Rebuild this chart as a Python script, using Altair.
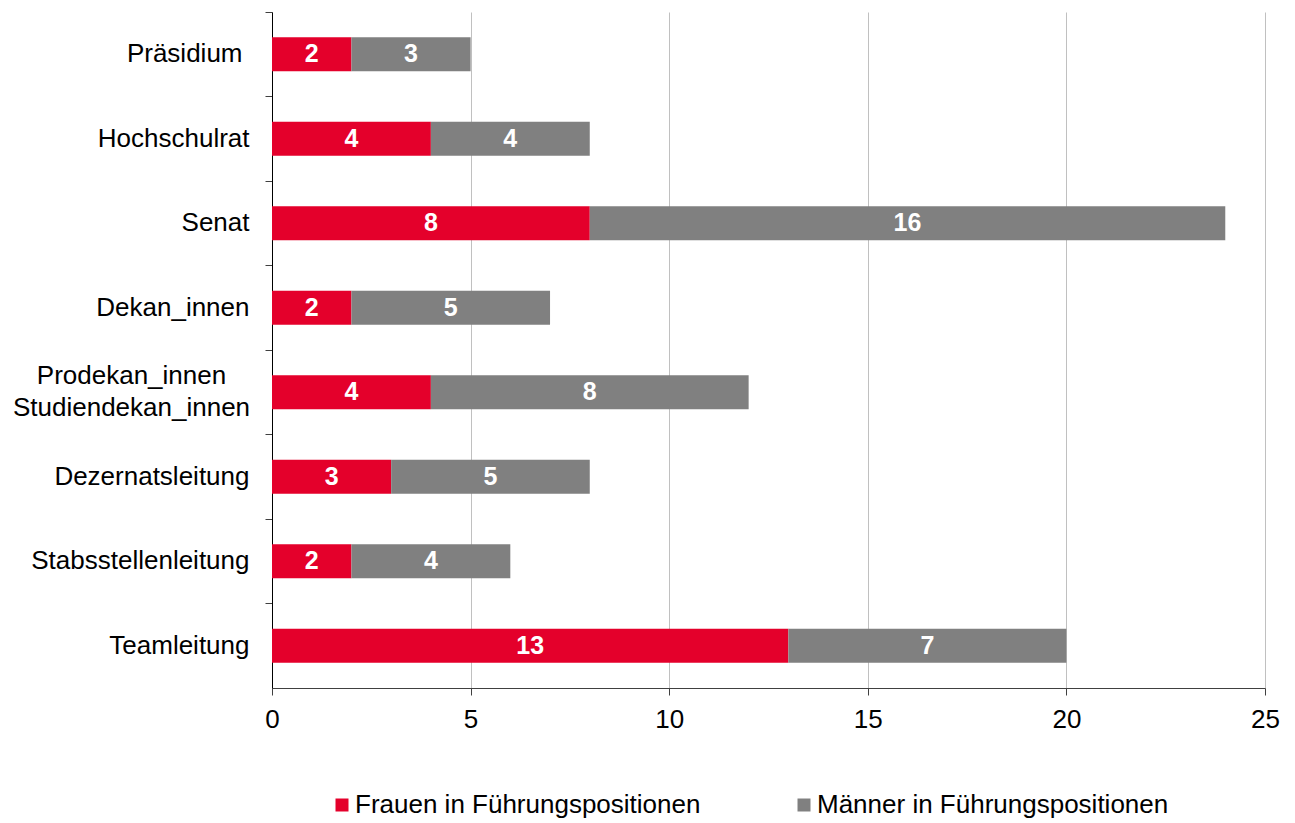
import altair as alt
import pandas as pd

categories = [
    "Präsidium",
    "Hochschulrat",
    "Senat",
    "Dekan_innen",
    "Prodekan_innen|Studiendekan_innen",
    "Dezernatsleitung",
    "Stabsstellenleitung",
    "Teamleitung",
]
frauen = [2, 4, 8, 2, 4, 3, 2, 13]
maenner = [3, 4, 16, 5, 8, 5, 4, 7]
series = ["Frauen in Führungspositionen", "Männer in Führungspositionen"]
colors = ["#E4002B", "#808080"]
x_ticks = [0, 5, 10, 15, 20, 25]

rows = []
for c, f, m in zip(categories, frauen, maenner):
    rows.append({"cat": c, "series": series[0], "value": f, "ord": 0})
    rows.append({"cat": c, "series": series[1], "value": m, "ord": 1})
df = pd.DataFrame(rows)

FONT = "Liberation Sans"

base = alt.Chart(df).transform_stack(
    stack="value", as_=["x0", "x1"], groupby=["cat"], sort=[alt.SortField("ord")]
).transform_calculate(mid="(datum.x0 + datum.x1) / 2")

is_multi = "indexof(datum.value, '|') >= 0"
is_pras = "datum.value == 'Präsidium'"

xscale = alt.Scale(domain=[0, 25], nice=False)
yenc = alt.Y(
    "cat:N",
    sort=categories,
    scale=alt.Scale(paddingInner=0, paddingOuter=0),
    axis=alt.Axis(
        title=None,
        bandPosition=0,
        tickSize=7,
        labelPadding={
            "condition": [
                {"test": is_multi, "value": 134},
                {"test": is_pras, "value": 23},
            ],
            "value": 16,
        },
        labelAlign=alt.condition(is_multi, alt.value("center"), alt.value("right")),
        labelFontSize=26,
        labelFont=FONT,
        labelColor="#000000",
        domainColor="#000000",
        tickColor="#404040",
        labelExpr="split(datum.label, '|')",
        labelLineHeight=32,
        labelOffset=alt.condition(is_multi, alt.value(-16), alt.value(0)),
        labelLimit=400,
        grid=False,
    ),
)

bars = base.mark_bar(size=34).encode(
    x=alt.X(
        "x0:Q",
        scale=xscale,
        axis=alt.Axis(
            title=None,
            values=x_ticks,
            tickSize=7,
            labelPadding=11,
            labelFlush=False,
            labelFontSize=26,
            labelFont=FONT,
            labelColor="#000000",
            domainColor="#404040",
            tickColor="#404040",
            grid=True,
            gridColor="#c0c0c0",
            gridWidth=1,
        ),
    ),
    x2="x1:Q",
    y=yenc,
    color=alt.Color(
        "series:N",
        scale=alt.Scale(domain=series, range=colors),
        legend=alt.Legend(
            title=None,
            orient="none",
            legendX=57,
            legendY=780,
            direction="horizontal",
            symbolType="square",
            symbolSize=169,
            symbolStrokeWidth=0,
            labelFontSize=26,
            labelFont=FONT,
            labelColor="#000000",
            labelOffset=0,
            columnPadding=90,
            labelLimit=600,
        ),
    ),
)

text = base.mark_text(
    font=FONT, fontWeight="bold", fontSize=25, color="white", baseline="middle"
).encode(
    x=alt.X("mid:Q", scale=xscale),
    y=alt.Y("cat:N", sort=categories),
    text="value:Q",
)

chart = (
    alt.layer(bars, text)
    .properties(
        width=993,
        height=676,
        autosize=alt.AutoSizeParams(type="none"),
        padding={"left": 264, "top": 4, "right": 20, "bottom": 134},
    )
    .configure_view(stroke=None)
)

chart.save("out.html", embed_options={"renderer": "svg", "actions": False})
